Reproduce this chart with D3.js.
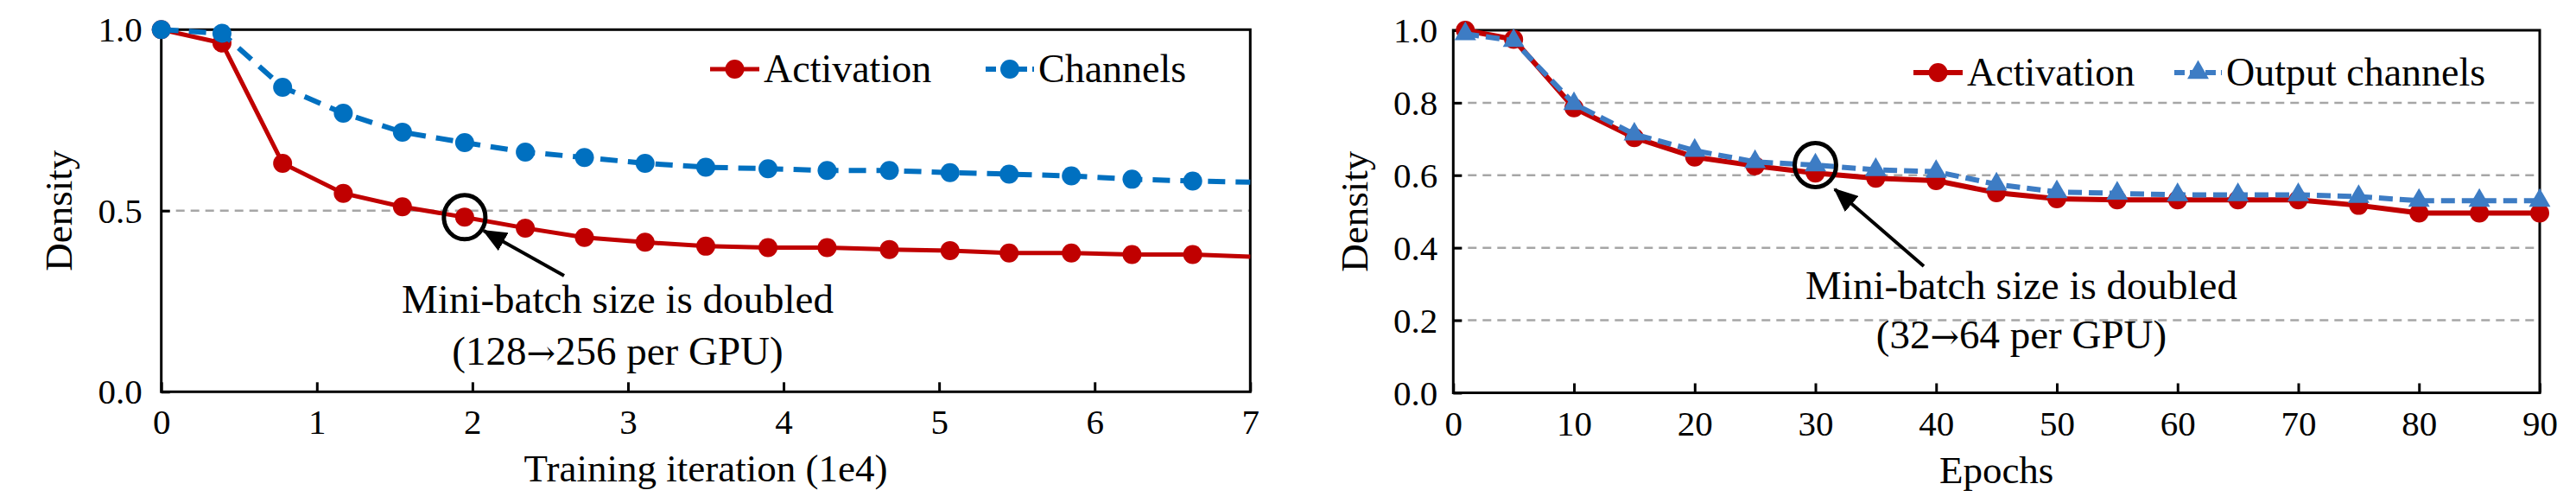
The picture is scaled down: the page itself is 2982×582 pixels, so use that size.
<!DOCTYPE html>
<html>
<head>
<meta charset="utf-8">
<script src="https://cdn.jsdelivr.net/npm/d3@7"></script>
<style>
	body { margin: 0; background: #fff; }
	svg { display: block; }
	text { font-family: "Liberation Serif", "Times New Roman", serif; fill: #000; }
	tspan.arw { font-family: "DejaVu Serif", serif; }
</style>
</head>
<body>
<svg id="chart" width="2982" height="582"></svg>
<script>
// left panel: density over training iterations (1e4)
var iterX = [0, 0.39, 0.78, 1.17, 1.55, 1.95, 2.34, 2.72, 3.11, 3.5, 3.9, 4.28, 4.68, 5.07, 5.45, 5.85, 6.24, 6.63, 7.0];
var iterActivation = [1.0, 0.963, 0.631, 0.548, 0.511, 0.482, 0.452, 0.426, 0.413, 0.402, 0.398, 0.398, 0.393, 0.39, 0.383, 0.383, 0.379, 0.379, 0.373];
var iterChannels = [1.0, 0.99, 0.841, 0.769, 0.717, 0.688, 0.662, 0.647, 0.631, 0.62, 0.616, 0.611, 0.611, 0.605, 0.601, 0.596, 0.587, 0.582, 0.579];
var iterTicksX = [0, 1, 2, 3, 4, 5, 6, 7];
var iterTicksY = [0, 0.5, 1.0];
var iterGrid = [0.5];

// right panel: density over epochs
var epochX = [1, 5, 10, 15, 20, 25, 30, 35, 40, 45, 50, 55, 60, 65, 70, 75, 80, 85, 90];
var epochActivation = [1.0, 0.975, 0.786, 0.704, 0.65, 0.626, 0.606, 0.592, 0.585, 0.552, 0.535, 0.532, 0.532, 0.532, 0.532, 0.517, 0.496, 0.496, 0.496];
var epochOutput = [0.99, 0.971, 0.797, 0.713, 0.668, 0.637, 0.628, 0.615, 0.61, 0.575, 0.554, 0.55, 0.546, 0.546, 0.546, 0.541, 0.53, 0.53, 0.53];
var epochTicksX = [0, 10, 20, 30, 40, 50, 60, 70, 80, 90];
var epochTicksY = [0, 0.2, 0.4, 0.6, 0.8, 1.0];
var epochGrid = [0.2, 0.4, 0.6, 0.8];

var RED = "#c00000";
var svg = d3.select("#chart");

function marker(g, shape, color, x, y){
	if (shape == "triangle"){
		g.append("path").attr("d", d3.symbol(d3.symbolTriangle, 270)())
			.attr("transform", "translate(" + x + "," + y + ")")
			.attr("fill", color);
	} else {
		g.append("circle").attr("cx", x).attr("cy", y).attr("r", 11).attr("fill", color);
	}
}

function draw_panel(p){
	var x = d3.scaleLinear().domain(p.xDomain).range([p.left, p.right]);
	var y = d3.scaleLinear().domain([0, 1]).range([p.bottom, p.top]);
	var g = svg.append("g");

	// grid
	g.selectAll(".grid").data(p.grid).enter().append("line")
		.attr("x1", p.left).attr("x2", p.right)
		.attr("y1", function(d){ return y(d); }).attr("y2", function(d){ return y(d); })
		.attr("stroke", "#a6a6a6").attr("stroke-width", 2.5).attr("stroke-dasharray", "10,7");

	// axes
	var ax = g.append("g").attr("transform", "translate(0," + p.bottom + ")")
		.call(d3.axisBottom(x).tickValues(p.ticksX).tickSize(-11).tickPadding(20).tickFormat(d3.format("d")));
	var ay = g.append("g").attr("transform", "translate(" + p.left + ",0)")
		.call(d3.axisLeft(y).tickValues(p.ticksY).tickSize(-10).tickPadding(p.yPad).tickFormat(d3.format(".1f")));
	[ax, ay].forEach(function(a){
		a.attr("font-family", null);
		a.select(".domain").remove();
		a.selectAll("line").attr("stroke", "#000").attr("stroke-width", 3);
		a.selectAll("text").attr("font-size", 41);
	});
	ay.selectAll("text").attr("dy", "0.33em");

	// frame
	g.append("rect").attr("x", p.left).attr("y", p.top)
		.attr("width", p.right - p.left).attr("height", p.bottom - p.top)
		.attr("fill", "none").attr("stroke", "#000").attr("stroke-width", 3);

	// series
	var n = p.xs.length;
	p.series.forEach(function(s){
		var pts = p.xs.map(function(d, i){ return [d, s.values[i]]; });
		g.append("path").datum(pts)
			.attr("d", d3.line().x(function(d){ return x(d[0]); }).y(function(d){ return y(d[1]); }))
			.attr("fill", "none").attr("stroke", s.color).attr("stroke-width", s.width)
			.attr("stroke-dasharray", s.dash);
		pts.forEach(function(d, i){
			if (i < n - 1 || p.lastMarker) marker(g, s.shape, s.color, x(d[0]), y(d[1]));
		});
	});

	// legend
	p.legend.forEach(function(l, i){
		var s = p.series[i];
		g.append("line").attr("x1", l.x1).attr("x2", l.x2).attr("y1", p.legendY).attr("y2", p.legendY)
			.attr("stroke", s.color).attr("stroke-width", s.width).attr("stroke-dasharray", s.dash ? "12,6" : null);
		marker(g, s.shape, s.color, (l.x1 + l.x2) / 2, p.legendY);
		g.append("text").attr("x", l.x2 + 5).attr("y", p.legendY + 15).attr("font-size", 46).text(s.name);
	});

	// annotation
	var a = p.note;
	g.append("ellipse").attr("cx", x(a.at[0])).attr("cy", y(a.at[1])).attr("rx", 24).attr("ry", 25.5)
		.attr("fill", "none").attr("stroke", "#000").attr("stroke-width", 5);
	g.append("line").attr("x1", a.from[0]).attr("y1", a.from[1]).attr("x2", a.to[0]).attr("y2", a.to[1])
		.attr("stroke", "#000").attr("stroke-width", 4).attr("marker-end", "url(#arrow)");
	g.append("text").attr("x", a.cx).attr("y", a.baselines[0]).attr("text-anchor", "middle")
		.attr("font-size", 47).text(a.line1);
	var t2 = g.append("text").attr("x", a.cx).attr("y", a.baselines[1]).attr("text-anchor", "middle")
		.attr("font-size", 47);
	t2.append("tspan").text("(" + a.from_to[0]);
	t2.append("tspan").attr("class", "arw").attr("font-size", 40).text("\u2192");
	t2.append("tspan").text(a.from_to[1] + " per GPU)");

	// titles
	g.append("text").attr("x", (p.left + p.right) / 2).attr("y", p.bottom + 104)
		.attr("text-anchor", "middle").attr("font-size", 45).text(p.xTitle);
	g.append("text").attr("transform", "translate(" + p.yTitleX + "," + (p.top + p.bottom) / 2 + ") rotate(-90)")
		.attr("text-anchor", "middle").attr("font-size", 45).text("Density");
}

svg.append("defs").append("marker").attr("id", "arrow")
	.attr("markerUnits", "userSpaceOnUse").attr("markerWidth", 30).attr("markerHeight", 24)
	.attr("refX", 26).attr("refY", 12).attr("orient", "auto")
	.append("path").attr("d", "M0,0 L28,12 L0,24 Z").attr("fill", "#000");

draw_panel({
	left: 186.7, right: 1447.3, top: 34.3, bottom: 453.3, yPad: 22,
	xDomain: [0, 7], xs: iterX, ticksX: iterTicksX, ticksY: iterTicksY, grid: iterGrid,
	lastMarker: false,
	series: [
		{name: "Activation", values: iterActivation, color: RED, width: 5, dash: null, shape: "circle"},
		{name: "Channels", values: iterChannels, color: "#0070c0", width: 6, dash: "20,12", shape: "circle"}
	],
	legendY: 80,
	legend: [{x1: 822, x2: 879}, {x1: 1141, x2: 1197}],
	note: {at: [iterX[5], iterActivation[5]], from: [653, 319], to: [560, 267], cx: 715,
		baselines: [362, 422], line1: "Mini-batch size is doubled", from_to: ["128", "256"]},
	xTitle: "Training iteration (1e4)", yTitleX: 83
});

draw_panel({
	left: 1682.3, right: 2940, top: 35, bottom: 454.5, yPad: 18,
	xDomain: [0, 90], xs: epochX, ticksX: epochTicksX, ticksY: epochTicksY, grid: epochGrid,
	lastMarker: true,
	series: [
		{name: "Activation", values: epochActivation, color: RED, width: 6, dash: null, shape: "circle"},
		{name: "Output channels", values: epochOutput, color: "#3d7cc4", width: 6, dash: "16,8", shape: "triangle"}
	],
	legendY: 84,
	legend: [{x1: 2215, x2: 2272}, {x1: 2517, x2: 2572}],
	note: {at: [epochX[6], epochOutput[6]], from: [2227, 308], to: [2124, 219], cx: 2340,
		baselines: [346, 403], line1: "Mini-batch size is doubled", from_to: ["32", "64"]},
	xTitle: "Epochs", yTitleX: 1583
});
</script>
</body>
</html>
